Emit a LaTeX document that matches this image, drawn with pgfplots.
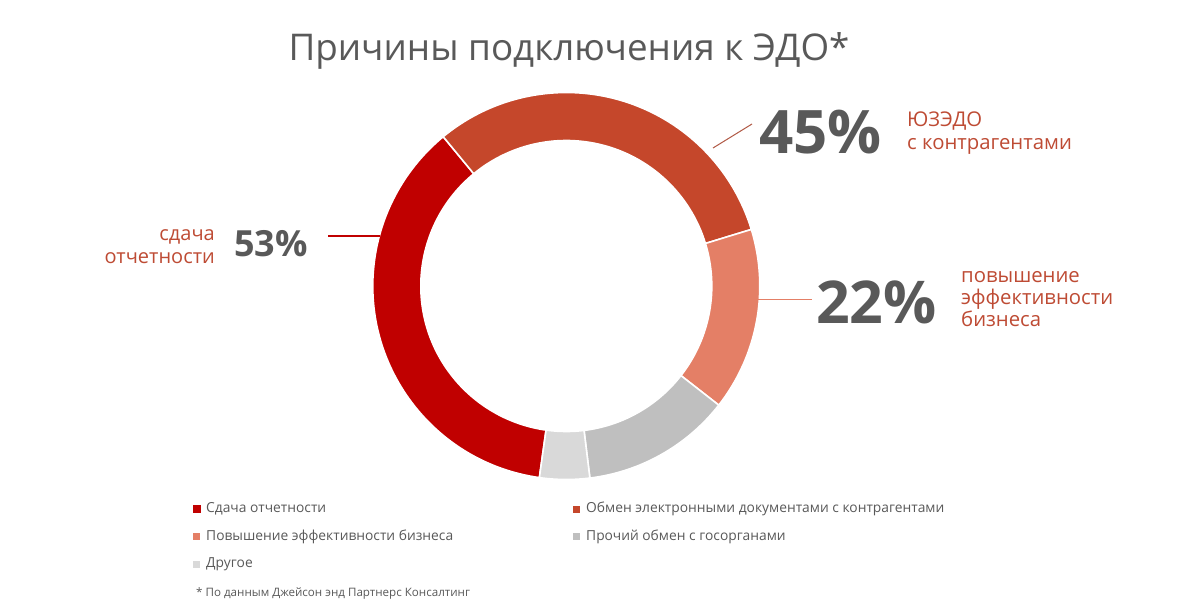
\documentclass[border=0pt]{standalone}
\usepackage{pgfplots}
\pgfplotsset{compat=1.18}
\usepackage{pgfplotstable}
\usepackage{fontspec}
\setmainfont{Open Sans}

\definecolor{col0}{HTML}{C00000}
\definecolor{col1}{HTML}{C5472B}
\definecolor{col2}{HTML}{E47F66}
\definecolor{col3}{HTML}{BFBFBF}
\definecolor{col4}{HTML}{D9D9D9}
\definecolor{txtgray}{HTML}{595959}
\definecolor{lbl}{HTML}{BE4B34}

% share of answers, %
\pgfplotstableread[col sep=comma]{
value
53
45
22
18
6
}\donutdata

\newcommand{\fs}[1]{\fontsize{#1bp}{#1bp}\selectfont}

\begin{document}%
\begin{tikzpicture}
% angles of the slices, clockwise from -98 deg
\def\total{0}
\pgfplotsforeachungrouped \i in {0,...,4}{%
  \pgfplotstablegetelem{\i}{value}\of\donutdata
  \pgfmathsetmacro\total{\total+\pgfplotsretval}%
}
\pgfmathsetmacro\degper{360/\total}
\def\cur{-98}
\pgfplotsforeachungrouped \i in {0,...,4}{%
  \pgfplotstablegetelem{\i}{value}\of\donutdata
  \pgfmathsetmacro\nxt{\cur-\pgfplotsretval*\degper}%
  \expandafter\xdef\csname sa\i\endcsname{\cur}%
  \expandafter\xdef\csname ea\i\endcsname{\nxt}%
  \global\let\cur\nxt
}
\fill[white] (0,0) rectangle (1200bp,616bp);
\begin{axis}[
  at={(0,0)}, anchor=south west,
  width=1200bp, height=616bp, scale only axis,
  xmin=0, xmax=1200, ymin=0, ymax=616, y dir=reverse,
  hide axis, clip=false,
]
\pgfplotsinvokeforeach{0,...,4}{
  \filldraw[fill=col#1, draw=white, line width=1.6bp]
    (axis cs:566.3,286) ++(\csname sa#1\endcsname:193.5bp)
    arc[start angle=\csname sa#1\endcsname, end angle=\csname ea#1\endcsname, radius=193.5bp]
    -- ++({\csname ea#1\endcsname+180}:48bp)
    arc[start angle=\csname ea#1\endcsname, end angle=\csname sa#1\endcsname, radius=145.5bp]
    -- cycle;
}

% title
\node[anchor=base, text=txtgray, inner sep=0] at (axis cs:569,61) {\fs{36.8}Причины подключения к ЭДО*};

% callouts
\draw[col0, line width=1.2bp] (axis cs:328,236) -- (axis cs:380,236);
\node[anchor=base west, text=txtgray, inner sep=0] at (axis cs:234,256) {\fs{36}\bfseries 53\%};
\node[anchor=base east, text=lbl, inner sep=0, align=right] at (axis cs:215,240) {\fs{20}сдача};
\node[anchor=base east, text=lbl, inner sep=0, align=right] at (axis cs:215,263.3) {\fs{20}отчетности};

\draw[col1!70!gray, line width=1bp] (axis cs:713,148) -- (axis cs:752,124);
\node[anchor=base west, text=txtgray, inner sep=0] at (axis cs:759,153.3) {\fs{60}\bfseries 45\%};
\node[anchor=base west, text=lbl, inner sep=0] at (axis cs:907,126.7) {\fs{20.3}ЮЗЭДО};
\node[anchor=base west, text=lbl, inner sep=0] at (axis cs:907,149.3) {\fs{20.3}с контрагентами};

\draw[col2, line width=1.2bp] (axis cs:758,299.3) -- (axis cs:812,299.3);
\node[anchor=base west, text=txtgray, inner sep=0] at (axis cs:816,323.3) {\fs{59}\bfseries 22\%};
\node[anchor=base west, text=lbl, inner sep=0] at (axis cs:961,282.3) {\fs{20.3}повышение};
\node[anchor=base west, text=lbl, inner sep=0] at (axis cs:961,304.5) {\fs{20.3}эффективности};
\node[anchor=base west, text=lbl, inner sep=0] at (axis cs:961,326.7) {\fs{20.3}бизнеса};

% legend
\fill[col0] (axis cs:193,505) rectangle (axis cs:200.5,512.5);
\node[anchor=base west, text=txtgray, inner sep=0] at (axis cs:206,512.3) {\fs{13.8}Сдача отчетности};
\fill[col1] (axis cs:573,505.5) rectangle (axis cs:580,512.5);
\node[anchor=base west, text=txtgray, inner sep=0] at (axis cs:586,512.3) {\fs{13.8}Обмен электронными документами с контрагентами};
\fill[col2] (axis cs:193,533) rectangle (axis cs:200,540);
\node[anchor=base west, text=txtgray, inner sep=0] at (axis cs:206,540) {\fs{13.8}Повышение эффективности бизнеса};
\fill[col3] (axis cs:573,533) rectangle (axis cs:580,540);
\node[anchor=base west, text=txtgray, inner sep=0] at (axis cs:586,540) {\fs{13.8}Прочий обмен с госорганами};
\fill[col4] (axis cs:193,560.5) rectangle (axis cs:200,567.5);
\node[anchor=base west, text=txtgray, inner sep=0] at (axis cs:206,567.7) {\fs{13.8}Другое};

\node[anchor=base west, text=txtgray, inner sep=0] at (axis cs:196,596.7) {\fs{11.6}* По данным Джейсон энд Партнерс Консалтинг};
\end{axis}
\pgfresetboundingbox
\path[use as bounding box] (0,0) rectangle (1200bp,616bp);
\end{tikzpicture}%
\end{document}
